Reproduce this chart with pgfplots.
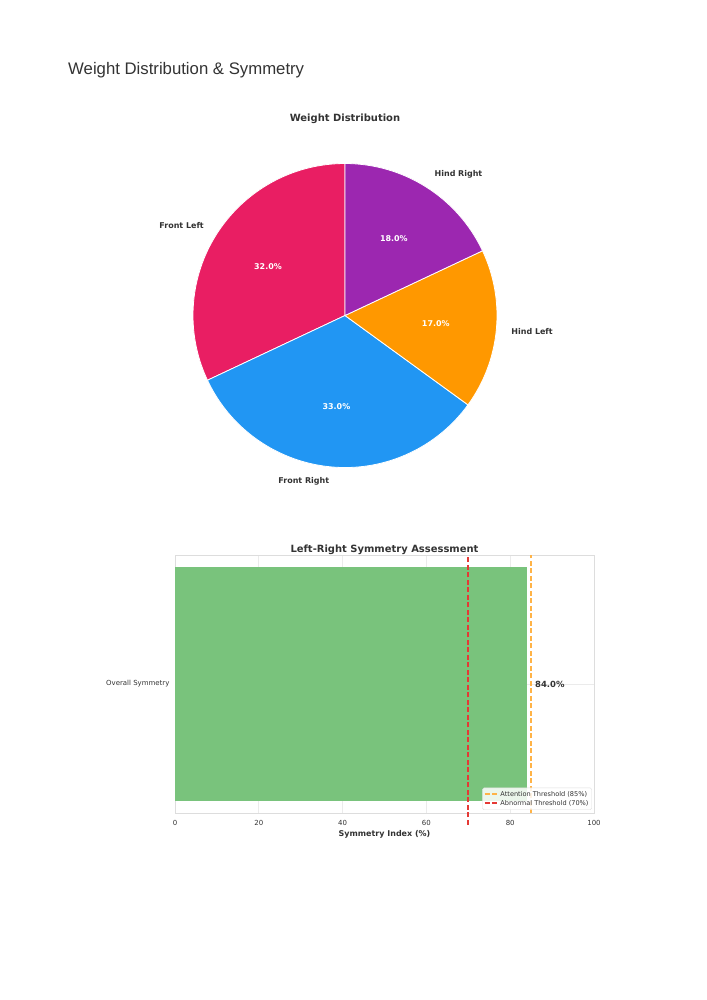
\documentclass[border=0pt]{standalone}
\usepackage{pgfplots}
\pgfplotsset{compat=1.18}
\usepackage{fontspec}
\setmainfont{DejaVu Sans}
\newfontfamily\titlefont{Liberation Sans}

\definecolor{cFL}{HTML}{E91E63}
\definecolor{cFR}{HTML}{2196F3}
\definecolor{cHL}{HTML}{FF9800}
\definecolor{cHR}{HTML}{9C27B0}
\definecolor{barg}{HTML}{79C37C}
\definecolor{thrRed}{HTML}{E53935}
\definecolor{thrOrg}{HTML}{FFB347}
\definecolor{gridc}{HTML}{EBEBEB}
\definecolor{framec}{HTML}{DDDDDD}
\definecolor{txt}{HTML}{333333}

% weight shares (%)
\def\vFL{32}
\def\vFR{33}
\def\vHL{17}
\def\vHR{18}

\newcommand\fs[1]{\fontsize{#1}{#1}\selectfont}

\begin{document}
\begin{tikzpicture}
\fill[white] (0,0) rectangle (707bp,-1000bp);

\node[anchor=base west, inner sep=0pt, text=txt, font=\titlefont\fs{16.8}] at (68bp,-74bp) {Weight Distribution \& Symmetry};

% pie: counter-clockwise from 90 deg
\pgfmathsetmacro\aA{90}
\pgfmathsetmacro\aB{\aA+3.6*\vFL}
\pgfmathsetmacro\aC{\aB+3.6*\vFR}
\pgfmathsetmacro\aD{\aC+3.6*\vHL}
\pgfmathsetmacro\aE{\aD+3.6*\vHR}
\pgfmathsetmacro\mA{(\aA+\aB)/2}
\pgfmathsetmacro\mB{(\aB+\aC)/2}
\pgfmathsetmacro\mC{(\aC+\aD)/2}
\pgfmathsetmacro\mD{(\aD+\aE)/2}

\begin{axis}[
  at={(345bp,-315.5bp)}, anchor=center,
  hide axis, scale only axis, clip=false,
  width=304bp, height=304bp,
  xmin=-1, xmax=1, ymin=-1, ymax=1,
  title={\bfseries Weight Distribution},
  title style={at={(0.5,1)}, anchor=base, yshift=36bp, font=\fs{10}, text=txt},
]
\fill[cFL, draw=white, line width=0.8bp] (axis cs:0,0) -- ++(\aA:152bp) arc[start angle=\aA, end angle=\aB, radius=152bp] -- cycle;
\fill[cFR, draw=white, line width=0.8bp] (axis cs:0,0) -- ++(\aB:152bp) arc[start angle=\aB, end angle=\aC, radius=152bp] -- cycle;
\fill[cHL, draw=white, line width=0.8bp] (axis cs:0,0) -- ++(\aC:152bp) arc[start angle=\aC, end angle=\aD, radius=152bp] -- cycle;
\fill[cHR, draw=white, line width=0.8bp] (axis cs:0,0) -- ++(\aD:152bp) arc[start angle=\aD, end angle=\aE, radius=152bp] -- cycle;

\path (axis cs:0,0) ++(\mA:167bp) node[anchor=east, inner sep=0pt, font=\bfseries\fs{8}, text=txt] {Front Left};
\path (axis cs:0,0) ++(\mB:167bp) node[anchor=east, inner sep=0pt, font=\bfseries\fs{8}, text=txt] {Front Right};
\path (axis cs:0,0) ++(\mC:167bp) node[anchor=west, inner sep=0pt, font=\bfseries\fs{8}, text=txt] {Hind Left};
\path (axis cs:0,0) ++(\mD:167bp) node[anchor=west, inner sep=0pt, font=\bfseries\fs{8}, text=txt] {Hind Right};

\path (axis cs:0,0) ++(\mA:91.2bp) node[font=\bfseries\fs{8}, text=white] {32.0\%};
\path (axis cs:0,0) ++(\mB:91.2bp) node[font=\bfseries\fs{8}, text=white] {33.0\%};
\path (axis cs:0,0) ++(\mC:91.2bp) node[font=\bfseries\fs{8}, text=white] {17.0\%};
\path (axis cs:0,0) ++(\mD:91.2bp) node[font=\bfseries\fs{8}, text=white] {18.0\%};
\end{axis}

% symmetry bar
\begin{axis}[
  at={(175bp,-813bp)}, anchor=south west,
  scale only axis, width=419bp, height=258bp,
  xmin=0, xmax=100, ymin=-0.44, ymax=0.44,
  clip=false,
  xtick={0,20,40,60,80,100},
  ytick={0}, yticklabels={Overall Symmetry},
  /pgf/number format/assume math mode=true,
  grid=major, major grid style={gridc, line width=0.7bp},
  axis line style={framec, line width=0.8bp},
  major tick length=0pt,
  tick label style={font=\fs{7}, text=txt},
  xticklabel style={anchor=base, yshift=-12bp},
  yticklabel style={anchor=east, xshift=-2bp},
  xlabel={\bfseries Symmetry Index (\%)},
  xlabel style={at={(axis description cs:0.5,0)}, anchor=base, yshift=-23bp, font=\fs{8}, text=txt},
  title={\bfseries Left-Right Symmetry Assessment},
  title style={at={(0.5,1)}, anchor=base, yshift=-3bp, font=\fs{10}, text=txt},
  legend style={at={(0.995,0.012)}, anchor=south east, draw=framec, fill=white,
    fill opacity=0.85, text opacity=1, font=\fs{6.6}, text=txt,
    rounded corners=1.5bp, inner sep=1.2bp, row sep=-1.5bp},
  legend cell align=left,
  legend image code/.code={\draw[#1] (0bp,0bp) -- (13bp,0bp);},
]
\addplot[xbar, bar width=0.8, fill=barg, draw=none, forget plot] coordinates {(84,0)};
\addplot[color=thrOrg, line width=1.8bp, dash pattern=on 5bp off 2.5bp] coordinates {(85,-0.44) (85,0.44)};
\addlegendentry{Attention Threshold (85\%)}
\addplot[color=thrRed, line width=1.8bp, dash pattern=on 5bp off 2.5bp] coordinates {(70,-0.48) (70,0.44)};
\addlegendentry{Abnormal Threshold (70\%)}
\node[anchor=west, inner sep=0pt, xshift=8bp, font=\bfseries\fs{8.5}, text=txt] at (axis cs:84,0) {84.0\%};
\end{axis}
\end{tikzpicture}
\end{document}
